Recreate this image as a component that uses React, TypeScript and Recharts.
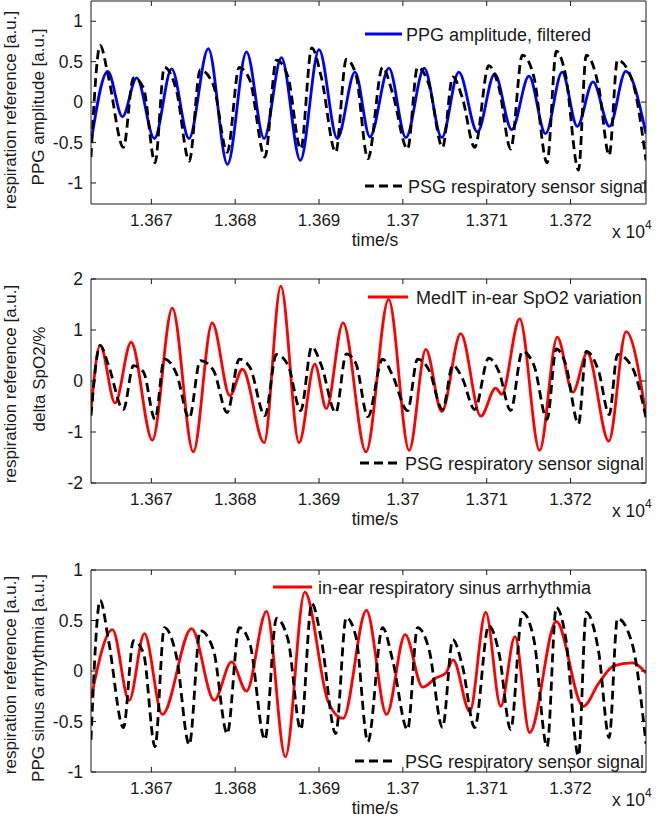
import React from "react";
import { LineChart, Line, XAxis, YAxis } from "recharts";

// time axis (s), shown as x 10^4
const xDomain = [13662.8, 13729];
const xTicks = [13670, 13680, 13690, 13700, 13710, 13720];

// PSG respiratory sensor signal (same reference trace in all three panels)
const psgTime = [
  13662.8, 13663.89, 13664.88, 13666.67, 13667.86, 13669.05, 13670.44, 13671.55, 13673.0, 13674.52,
  13675.83, 13677.4, 13679.05, 13680.48, 13681.75, 13683.54, 13684.92, 13686.3, 13687.82, 13689.13,
  13690.27, 13691.99, 13693.25, 13694.4, 13695.83, 13697.58, 13698.77, 13700.56, 13701.75, 13703.13,
  13704.73, 13705.95, 13707.1, 13708.57, 13710.24, 13711.46, 13712.86, 13714.25, 13715.63, 13717.2,
  13718.3, 13719.4, 13720.95, 13721.87, 13723.37, 13724.61, 13725.6, 13727.35, 13729,
];
const psgSignal = [
  -0.68, 0.7, 0.31, -0.56, 0.3, 0.18, -0.75, 0.43, 0.14, -0.73,
  0.4, 0.21, -0.62, 0.43, 0.27, -0.68, 0.52, 0.31, -0.58, 0.67,
  0.31, -0.62, 0.53, 0.34, -0.7, 0.43, 0.11, -0.58, 0.43, 0.21,
  -0.56, 0.31, 0.05, -0.56, 0.45, 0.18, -0.58, 0.58, 0.31, -0.75,
  0.63, 0.34, -0.84, 0.58, 0.18, -0.66, 0.52, 0.27, -0.72,
];

// PPG amplitude, filtered
const ppgTime = [
  13662.8, 13664.8, 13666.55, 13668.25, 13670.36, 13672.42, 13674.49, 13676.79, 13679.08, 13681.35,
  13683.45, 13685.51, 13687.77, 13690.0, 13692.18, 13694.29, 13696.07, 13698.33, 13700.36, 13702.54,
  13704.64, 13706.67, 13708.89, 13710.95, 13712.98, 13715.04, 13717.02, 13718.99, 13720.8, 13722.68,
  13724.64, 13726.58, 13729,
];
const ppgAmplitude = [
  -0.5, 0.38, -0.18, 0.3, -0.45, 0.41, -0.45, 0.66, -0.77, 0.62,
  -0.45, 0.55, -0.72, 0.65, -0.45, 0.37, -0.43, 0.42, -0.44, 0.42,
  -0.44, 0.37, -0.37, 0.35, -0.34, 0.32, -0.39, 0.37, -0.3, 0.25,
  -0.3, 0.38, -0.39,
];

// MedIT in-ear SpO2 variation
const spo2Time = [
  13662.8, 13663.89, 13665.68, 13667.58, 13670.12, 13672.5, 13675.0, 13677.26, 13679.37, 13680.87,
  13683.45, 13685.44, 13687.62, 13689.49, 13690.87, 13692.86, 13695.6, 13698.3, 13700.75, 13702.74,
  13704.64, 13706.9, 13709.29, 13711.07, 13711.79, 13713.93, 13716.31, 13718.42, 13720.27, 13721.99,
  13724.56, 13726.63, 13729,
];
const spo2Variation = [
  -0.58, 0.7, -0.43, 0.76, -1.16, 1.43, -1.39, 1.14, -0.29, 0.23,
  -1.21, 1.86, -1.21, 0.33, -0.54, 1.14, -1.39, 1.6, -1.36, 0.62,
  -0.6, 0.93, -0.69, -0.14, -0.26, 1.22, -1.36, 0.86, -0.22, 0.55,
  -1.18, 0.97, -0.67,
];

// in-ear respiratory sinus arrhythmia
const rsaTime = [
  13662.8, 13665.36, 13667.35, 13669.17, 13671.31, 13674.8, 13677.5, 13679.56, 13681.35, 13683.73,
  13685.99, 13688.3, 13691.07, 13692.86, 13695.65, 13698.06, 13700.27, 13702.35, 13703.93, 13705.12,
  13705.99, 13707.98, 13709.88, 13711.67, 13713.37, 13715.12, 13718.3, 13721.51, 13723.37, 13725.15,
  13727.35, 13729,
];
const rsaSignal = [
  -0.27, 0.41, -0.29, 0.37, -0.43, 0.42, -0.29, 0.09, -0.2, 0.59,
  -0.85, 0.78, -0.3, -0.47, 0.6, -0.43, 0.36, -0.16, -0.07, -0.02,
  0.11, -0.4, 0.58, -0.35, 0.34, -0.61, 0.49, -0.35, -0.12, 0.05,
  0.08, -0.02,
];

const toPoints = (t: number[], v: number[]) => t.map((x, i) => ({ t: x, v: v[i] }));

const psg = toPoints(psgTime, psgSignal);
const ppg = toPoints(ppgTime, ppgAmplitude);
const spo2 = toPoints(spo2Time, spo2Variation);
const rsa = toPoints(rsaTime, rsaSignal);

const FONT = '"Liberation Sans", Arial, sans-serif';
const INK = "#1a1a1a";
const DASH = "9 5";
const LW = 2.8;

const fmtX = (v: number) => String(+(v / 10000).toFixed(4));
const blank = () => "";

interface PanelProps {
  plotTop: number;
  plotBottom: number;
  yDomain: number[];
  yTicks: number[];
  main: { t: number; v: number }[];
  color: string;
}

function Panel({ plotTop, plotBottom, yDomain, yTicks, main, color }: PanelProps) {
  const chartTop = plotTop - 20;
  const height = plotBottom - chartTop + 46;
  return (
    <div style={{ position: "absolute", left: 0, top: chartTop }}>
      <LineChart width={659} height={height} margin={{ top: 19, right: 12, bottom: 0, left: 0 }}>
        <XAxis
          xAxisId="b"
          dataKey="t"
          type="number"
          domain={xDomain}
          ticks={xTicks}
          allowDataOverflow
          height={46}
          tickSize={-5}
          tickMargin={15}
          tickFormatter={fmtX}
          stroke={INK}
          tick={{ fill: INK, fontSize: 17, fontFamily: FONT }}
        />
        <XAxis
          xAxisId="t"
          orientation="top"
          dataKey="t"
          type="number"
          domain={xDomain}
          ticks={xTicks}
          allowDataOverflow
          height={1}
          tickSize={-5}
          tickFormatter={blank}
          stroke={INK}
        />
        <YAxis
          yAxisId="l"
          type="number"
          domain={yDomain}
          ticks={yTicks}
          allowDataOverflow
          width={91}
          tickSize={-5}
          tickMargin={13}
          stroke={INK}
          tick={{ fill: INK, fontSize: 17.5, fontFamily: FONT }}
        />
        <YAxis
          yAxisId="r"
          orientation="right"
          type="number"
          domain={yDomain}
          ticks={yTicks}
          allowDataOverflow
          width={1}
          tickSize={-5}
          tickFormatter={blank}
          stroke={INK}
        />
        <Line
          xAxisId="b"
          yAxisId="l"
          data={main}
          dataKey="v"
          type="monotone"
          stroke={color}
          strokeWidth={LW}
          dot={false}
          activeDot={false}
          isAnimationActive={false}
        />
        <Line
          xAxisId="b"
          yAxisId="l"
          data={psg}
          dataKey="v"
          type="monotone"
          stroke="#000"
          strokeWidth={LW}
          strokeDasharray={DASH}
          dot={false}
          activeDot={false}
          isAnimationActive={false}
        />
      </LineChart>
    </div>
  );
}

function Txt({ x, y, children, size = 18 }: { x: number; y: number; children: React.ReactNode; size?: number }) {
  return (
    <div
      style={{
        position: "absolute",
        left: x,
        top: y,
        transform: "translateY(-50%)",
        fontSize: size,
        lineHeight: 1,
        whiteSpace: "nowrap",
        color: INK,
      }}
    >
      {children}
    </div>
  );
}

function VTxt({ x, y, children }: { x: number; y: number; children: React.ReactNode }) {
  return (
    <div
      style={{
        position: "absolute",
        left: x,
        top: y,
        transform: "translate(-50%, -50%) rotate(-90deg)",
        fontSize: 17,
        lineHeight: 1,
        whiteSpace: "nowrap",
        color: INK,
      }}
    >
      {children}
    </div>
  );
}

function LegendItem({ x, y, len, color, dashed, label, gap }: {
  x: number; y: number; len: number; color: string; dashed?: boolean; label: string; gap: number;
}) {
  return (
    <>
      <svg style={{ position: "absolute", left: x, top: y - 3 }} width={len} height={6}>
        <line x1={0} y1={3} x2={len} y2={3} stroke={color} strokeWidth={LW} strokeDasharray={dashed ? DASH : undefined} />
      </svg>
      <Txt x={x + len + gap} y={y + 1}>{label}</Txt>
    </>
  );
}

function TimeLabel({ axisY }: { axisY: number }) {
  return (
    <>
      <div style={{ position: "absolute", left: 375, top: axisY + 37, transform: "translate(-50%, -50%)", fontSize: 17.5, lineHeight: 1, color: INK }}>
        time/s
      </div>
      <Txt x={612} y={axisY + 29} size={17.5}>x 10</Txt>
      <Txt x={645} y={axisY + 21} size={12}>4</Txt>
    </>
  );
}

export default function App() {
  return (
    <div style={{ position: "absolute", left: 0, top: 0, width: 659, height: 825, background: "#fff", fontFamily: FONT, overflow: "hidden" }}>
      <Panel plotTop={1} plotBottom={204} yDomain={[-1.26, 1.25]} yTicks={[-1, -0.5, 0, 0.5, 1]} main={ppg} color="#0000ff" />
      <Panel plotTop={279} plotBottom={483} yDomain={[-2, 2]} yTicks={[-2, -1, 0, 1, 2]} main={spo2} color="#ff0000" />
      <Panel plotTop={570} plotBottom={772} yDomain={[-1, 1]} yTicks={[-1, -0.5, 0, 0.5, 1]} main={rsa} color="#ff0000" />

      <VTxt x={10} y={110}>respiration reference [a.u.]</VTxt>
      <VTxt x={38} y={107}>PPG amplitude [a.u.]</VTxt>
      <VTxt x={10} y={384}>respiration reference [a.u.]</VTxt>
      <VTxt x={39} y={379}>delta SpO2/%</VTxt>
      <VTxt x={10} y={675}>respiration reference [a.u.]</VTxt>
      <VTxt x={38} y={678}>PPG sinus arrhythmia [a.u.]</VTxt>

      <TimeLabel axisY={204} />
      <TimeLabel axisY={483} />
      <TimeLabel axisY={772} />

      <LegendItem x={365} y={34} len={37} color="#0000ff" label="PPG amplitude, filtered" gap={4} />
      <LegendItem x={365} y={186} len={37} color="#000" dashed label="PSG respiratory sensor signal" gap={6} />
      <LegendItem x={368} y={297} len={40} color="#ff0000" label="MedIT in-ear SpO2 variation" gap={8} />
      <LegendItem x={360} y={463} len={38} color="#000" dashed label="PSG respiratory sensor signal" gap={7} />
      <LegendItem x={273} y={587} len={39} color="#ff0000" label="in-ear respiratory sinus arrhythmia" gap={6} />
      <LegendItem x={355} y={761} len={38} color="#000" dashed label="PSG respiratory sensor signal" gap={12} />
    </div>
  );
}
